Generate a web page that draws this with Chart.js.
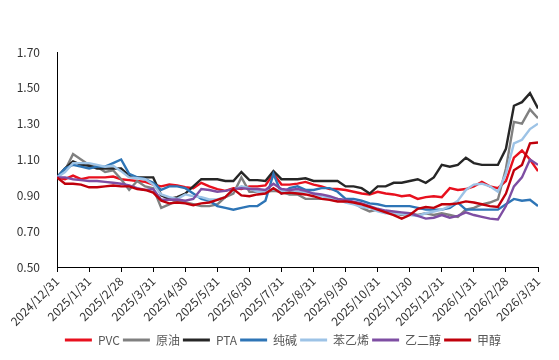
<!DOCTYPE html>
<html>
<head>
<meta charset="utf-8">
<script src="https://cdn.jsdelivr.net/npm/chart.js@4/dist/chart.umd.min.js"></script>
<style>
	html, body { margin: 0; padding: 0; background: #fff; }
</style>
</head>
<body>
<canvas id="price-chart" width="559" height="360"></canvas>
<script>
// month-end tick labels, one every 4 weekly points
const monthLabels = [
	'2024/12/31', '2025/1/31', '2025/2/28', '2025/3/31', '2025/4/30', '2025/5/31',
	'2025/6/30', '2025/7/31', '2025/8/31', '2025/9/30', '2025/10/31', '2025/11/30',
	'2025/12/31', '2026/1/31', '2026/2/28', '2026/3/31',
];
const pointsPerMonth = 4;

const seriesNames = ['PVC', '原油', 'PTA', '纯碱', '苯乙烯', '乙二醇', '甲醇'];
const seriesColors = ['#e8101e', '#808080', '#262626', '#2e75b6', '#9dc3e6', '#7e4ea3', '#c0000b'];

// normalised prices (2024/12/31 = 1), read off the picture roughly weekly
const pvc = [
	1.00, 0.99, 1.01, 0.99, 1.00, 1.00, 1.00, 1.005, 0.99, 0.985,
	0.98, 0.975, 0.96, 0.95, 0.96, 0.955, 0.945, 0.94, 0.97, 0.95,
	0.935, 0.925, 0.94, 0.935, 0.95, 0.95, 0.955, 1.02, 0.96, 0.96,
	0.965, 0.975, 0.96, 0.95, 0.935, 0.935, 0.93, 0.92, 0.91, 0.905,
	0.92, 0.91, 0.905, 0.895, 0.90, 0.88, 0.89, 0.895, 0.89, 0.94,
	0.93, 0.935, 0.95, 0.975, 0.95, 0.94, 0.98, 1.11, 1.15, 1.10,
	1.035,
];
const crude = [
	1.00, 1.04, 1.13, 1.10, 1.07, 1.06, 1.03, 1.04, 0.99, 0.93,
	0.98, 0.95, 0.94, 0.83, 0.85, 0.87, 0.86, 0.85, 0.84, 0.84,
	0.85, 0.89, 0.91, 1.00, 0.92, 0.92, 0.92, 0.925, 0.92, 0.905,
	0.905, 0.88, 0.88, 0.88, 0.88, 0.88, 0.87, 0.86, 0.83, 0.81,
	0.82, 0.81, 0.80, 0.79, 0.80, 0.79, 0.80, 0.79, 0.80, 0.79,
	0.78, 0.82, 0.83, 0.85, 0.86, 0.877, 1.05, 1.31, 1.30, 1.38,
	1.33,
];
const pta = [
	1.00, 1.05, 1.09, 1.07, 1.065, 1.05, 1.05, 1.05, 1.05, 1.01,
	1.00, 1.00, 1.00, 0.90, 0.88, 0.89, 0.91, 0.95, 0.99, 0.99,
	0.99, 0.98, 0.98, 1.03, 0.985, 0.985, 0.98, 1.035, 0.99, 0.99,
	0.99, 0.995, 0.98, 0.98, 0.98, 0.98, 0.95, 0.95, 0.94, 0.91,
	0.95, 0.95, 0.97, 0.97, 0.98, 0.99, 0.97, 1.00, 1.07, 1.06,
	1.07, 1.11, 1.08, 1.07, 1.07, 1.07, 1.16, 1.40, 1.42, 1.47,
	1.385,
];
const sodaAsh = [
	1.00, 1.05, 1.07, 1.06, 1.05, 1.06, 1.06, 1.08, 1.10, 1.02,
	1.00, 0.99, 0.97, 0.93, 0.95, 0.95, 0.94, 0.91, 0.88, 0.87,
	0.84, 0.83, 0.82, 0.83, 0.84, 0.84, 0.87, 1.02, 0.91, 0.94,
	0.95, 0.93, 0.93, 0.94, 0.94, 0.92, 0.88, 0.88, 0.87, 0.855,
	0.85, 0.84, 0.84, 0.84, 0.84, 0.83, 0.82, 0.82, 0.82, 0.83,
	0.86, 0.82, 0.82, 0.82, 0.82, 0.82, 0.85, 0.88, 0.87, 0.875,
	0.84,
];
const styrene = [
	1.00, 1.03, 1.08, 1.08, 1.08, 1.07, 1.06, 1.065, 1.035, 1.00,
	0.995, 0.99, 0.96, 0.905, 0.89, 0.88, 0.905, 0.895, 0.89, 0.877,
	0.877, 0.89, 0.93, 0.95, 0.94, 0.92, 0.92, 0.935, 0.925, 0.92,
	0.92, 0.92, 0.91, 0.895, 0.885, 0.877, 0.86, 0.85, 0.835, 0.83,
	0.81, 0.80, 0.80, 0.795, 0.79, 0.785, 0.80, 0.81, 0.82, 0.84,
	0.87, 0.93, 0.96, 0.965, 0.95, 0.92, 1.02, 1.19, 1.21, 1.27,
	1.30,
];
const glycol = [
	1.00, 1.00, 0.99, 0.985, 0.98, 0.98, 0.975, 0.97, 0.965, 0.955,
	0.94, 0.93, 0.935, 0.875, 0.875, 0.877, 0.87, 0.88, 0.935, 0.93,
	0.92, 0.925, 0.935, 0.94, 0.935, 0.935, 0.93, 0.965, 0.935, 0.93,
	0.935, 0.925, 0.91, 0.905, 0.895, 0.88, 0.875, 0.865, 0.855, 0.84,
	0.825, 0.815, 0.81, 0.805, 0.80, 0.785, 0.77, 0.775, 0.79, 0.775,
	0.785, 0.805, 0.79, 0.78, 0.77, 0.765, 0.84, 0.95, 1.00, 1.10,
	1.07,
];
const methanol = [
	1.00, 0.965, 0.965, 0.96, 0.945, 0.945, 0.95, 0.955, 0.95, 0.95,
	0.935, 0.93, 0.915, 0.87, 0.855, 0.86, 0.855, 0.845, 0.855, 0.86,
	0.875, 0.89, 0.935, 0.90, 0.895, 0.905, 0.91, 0.94, 0.91, 0.915,
	0.91, 0.905, 0.895, 0.88, 0.875, 0.866, 0.866, 0.86, 0.85, 0.835,
	0.82, 0.805, 0.79, 0.77, 0.79, 0.825, 0.835, 0.83, 0.85, 0.85,
	0.855, 0.866, 0.86, 0.85, 0.84, 0.835, 0.91, 1.04, 1.07, 1.19,
	1.195,
];

const seriesValues = [pvc, crude, pta, sodaAsh, styrene, glycol, methanol];

const fontFamily = "'Noto Sans CJK SC', 'Noto Sans', sans-serif";
const axisColor = '#000000';
const tickColor = '#333333';
const legendShift = 14;

function toPoints(values) {
	return values.map((value, index) => ({ x: index, y: value }));
}

const datasets = seriesValues.map((values, index) => ({
	label: seriesNames[index],
	data: toPoints(values),
	borderColor: seriesColors[index],
	backgroundColor: seriesColors[index],
	borderWidth: 2.4,
	pointRadius: 0,
	tension: 0,
	// later series sit on top, like the original
	order: seriesValues.length - index,
}));

const lastIndex = (monthLabels.length - 1) * pointsPerMonth;

// the original centres its legend a little right of the canvas centre
const nudgeLegend = {
	id: 'nudgeLegend',
	afterLayout(chart) {
		chart.legend.left += legendShift;
		chart.legend.right += legendShift;
	},
};

const config = {
	type: 'line',
	data: { datasets: datasets },
	plugins: [nudgeLegend],
	options: {
		animation: false,
		responsive: false,
		layout: {
			padding: { top: 52, right: 21, bottom: 4, left: 0 },
		},
		plugins: {
			tooltip: { enabled: false },
			legend: {
				position: 'bottom',
				labels: {
					boxWidth: 27,
					boxHeight: 3,
					padding: 3,
					color: '#595959',
					font: { family: fontFamily, size: 12 },
					generateLabels: (chart) =>
						chart.data.datasets.map((ds, i) => ({
							text: ds.label,
							fillStyle: ds.borderColor,
							strokeStyle: ds.borderColor,
							lineWidth: 0,
							hidden: false,
							datasetIndex: i,
							fontColor: '#595959',
						})),
				},
			},
		},
		scales: {
			x: {
				type: 'linear',
				min: 0,
				max: lastIndex,
				grid: {
					drawOnChartArea: false,
					color: axisColor,
					tickLength: 5,
				},
				border: { color: axisColor, width: 1 },
				ticks: {
					stepSize: pointsPerMonth,
					autoSkip: false,
					maxRotation: 45,
					minRotation: 45,
					padding: 2,
					color: tickColor,
					font: { family: fontFamily, size: 12 },
					callback: (val) =>
						val % pointsPerMonth === 0 ? monthLabels[val / pointsPerMonth] : null,
				},
				afterFit: (scale) => {
					scale.height = 64;
				},
			},
			y: {
				min: 0.5,
				max: 1.7,
				grid: { display: false },
				border: { color: axisColor, width: 1 },
				ticks: {
					stepSize: 0.2,
					padding: 9,
					color: tickColor,
					font: { family: fontFamily, size: 12 },
					callback: (val) => val.toFixed(2),
				},
				afterFit: (scale) => {
					scale.width = 57;
				},
			},
		},
	},
};

new Chart(document.getElementById('price-chart'), config);
</script>
</body>
</html>
